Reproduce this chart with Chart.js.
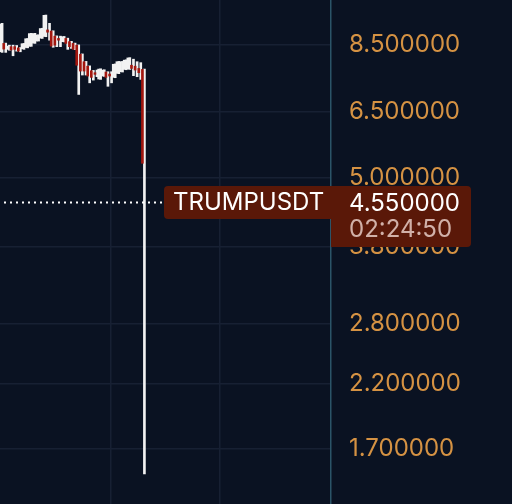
<!DOCTYPE html>
<html>
<head>
<meta charset="utf-8">
<script src="https://cdn.jsdelivr.net/npm/chart.js@4.4.1/dist/chart.umd.min.js"></script>
<style>
html, body { margin: 0; padding: 0; background: #0a1222; }
canvas { display: block; }
</style>
</head>
<body>
<canvas id="myChart" width="512" height="504"></canvas>
<script>
// candles (one per bar, left to right)
const opens  = [8.26, 8.54, 8.34, 8.43, 8.43, 8.39, 8.36, 8.40, 8.44, 8.55, 8.62, 8.72, 8.78, 9.01, 8.97, 8.79, 8.71, 8.60, 8.71, 8.60,
                8.54, 8.48, 8.18, 7.94, 7.80, 7.66, 7.60, 7.41, 7.50, 7.62, 7.56, 7.46, 7.58, 7.63, 7.70, 7.71, 7.83, 7.80, 7.73, 7.70];
const highs  = [9.25, 8.55, 8.48, 8.48, 8.47, 8.40, 8.54, 8.71, 8.89, 8.89, 8.84, 9.07, 9.56, 9.25, 8.98, 8.80, 8.79, 8.78, 8.72, 8.61,
                8.55, 8.49, 8.19, 7.95, 7.81, 7.67, 7.68, 7.72, 7.69, 7.63, 7.63, 7.87, 7.95, 7.95, 8.00, 8.07, 8.02, 7.94, 7.91, 7.71];
const lows   = [8.24, 8.24, 8.31, 8.13, 8.28, 8.26, 8.34, 8.39, 8.44, 8.54, 8.62, 8.71, 8.77, 8.65, 8.41, 8.43, 8.43, 8.59, 8.34, 8.37,
                8.33, 6.97, 7.53, 7.53, 7.30, 7.38, 7.48, 7.40, 7.49, 7.20, 7.30, 7.45, 7.57, 7.62, 7.69, 7.70, 7.51, 7.48, 7.40, 1.54];
const closes = [9.22, 8.35, 8.45, 8.32, 8.34, 8.28, 8.53, 8.70, 8.88, 8.88, 8.83, 9.06, 9.55, 8.93, 8.45, 8.48, 8.65, 8.77, 8.54, 8.43,
                8.34, 7.83, 7.65, 7.65, 7.50, 7.46, 7.55, 7.71, 7.68, 7.46, 7.50, 7.86, 7.94, 7.94, 7.99, 8.06, 7.73, 7.68, 7.60, 5.30];
const priceTicks = [1.7, 2.2, 2.8, 3.8, 5.0, 6.5, 8.5];
const timeGrid = [30, 60];
const lastPrice = 4.55;
const symbol = 'TRUMPUSDT';
const countdown = '02:24:50';

const upColor = '#f2f2f2';
const downColor = '#a3170f';
const tagColor = '#5a1808';
const FONT = 'Inter, "DejaVu Sans", sans-serif';

const bodies = opens.map((o, i) => ({ x: i, y: [o, closes[i]] }));
const wicks = lows.map((l, i) => ({ x: i, y: [l, highs[i]] }));
const bodyColors = opens.map((o, i) => closes[i] >= o ? upColor : downColor);

const background = {
    id: 'background',
    beforeDraw(chart) {
        const c = chart.ctx;
        c.save();
        c.fillStyle = '#0a1222';
        c.fillRect(0, 0, chart.width, chart.height);
        c.restore();
    }
};

const priceTag = {
    id: 'priceTag',
    afterDraw(chart) {
        const c = chart.ctx;
        const area = chart.chartArea;
        const py = Math.round(chart.scales.y.getPixelForValue(lastPrice));
        c.save();
        // dotted last price line
        c.strokeStyle = '#ffffff';
        c.lineWidth = 2;
        c.setLineDash([2, 4]);
        c.beginPath();
        c.moveTo(4, py + 0.5);
        c.lineTo(163, py + 0.5);
        c.stroke();
        c.setLineDash([]);
        // symbol tag
        c.fillStyle = tagColor;
        c.beginPath();
        c.roundRect(164, py - 16, area.right - 164 + 6, 33, 4);
        c.fill();
        // price + countdown tag
        c.beginPath();
        c.roundRect(area.right, py - 16, 140, 61, [0, 4, 4, 0]);
        c.fill();
        c.textBaseline = 'middle';
        c.textAlign = 'left';
        c.font = '24px ' + FONT;
        c.fillStyle = '#ffffff';
        c.fillText(symbol, 173, py + 1);
        c.fillText(lastPrice.toFixed(6), area.right + 18, py + 2);
        c.fillStyle = 'rgba(255,235,230,0.72)';
        c.fillText(countdown, area.right + 18, py + 28);
        c.restore();
    }
};

const ctx = document.getElementById('myChart').getContext('2d');
const myChart = new Chart(ctx, {
    type: 'bar',
    data: {
        datasets: [{
            label: 'body',
            data: bodies,
            backgroundColor: bodyColors,
            barThickness: 2,
            minBarLength: 1,
            borderSkipped: false
        }, {
            label: 'wick',
            data: wicks,
            backgroundColor: upColor,
            barThickness: 2,
            borderSkipped: false
        }]
    },
    options: {
        responsive: false,
        animation: false,
        layout: { padding: 0, autoPadding: false },
        plugins: {
            legend: { display: false },
            tooltip: { enabled: false }
        },
        scales: {
            x: {
                type: 'linear',
                min: -0.3,
                max: 90.4,
                offset: false,
                grid: { color: '#172033', lineWidth: 1.5, drawTicks: false, offset: false },
                border: { display: false },
                ticks: { display: false, stepSize: 30 },
                afterBuildTicks: s => { s.ticks = timeGrid.map(v => ({ value: v })); },
                afterFit: s => { s.height = 0; s.paddingLeft = 0; s.paddingRight = 0; }
            },
            y: {
                type: 'logarithmic',
                position: 'right',
                min: 1.366,
                max: 10.15,
                grid: { color: '#172033', lineWidth: 1.5, drawTicks: false },
                border: { display: true, color: '#2b5468', width: 1.5 },
                ticks: {
                    color: '#d59243',
                    padding: 18,
                    autoSkip: false,
                    font: { family: FONT, size: 24 },
                    callback: v => Number(v).toFixed(6)
                },
                afterBuildTicks: s => { s.ticks = priceTicks.map(v => ({ value: v })); },
                afterFit: s => { s.width = 181; s.paddingTop = 0; s.paddingBottom = 0; }
            }
        }
    },
    plugins: [background, priceTag]
});
</script>
</body>
</html>
